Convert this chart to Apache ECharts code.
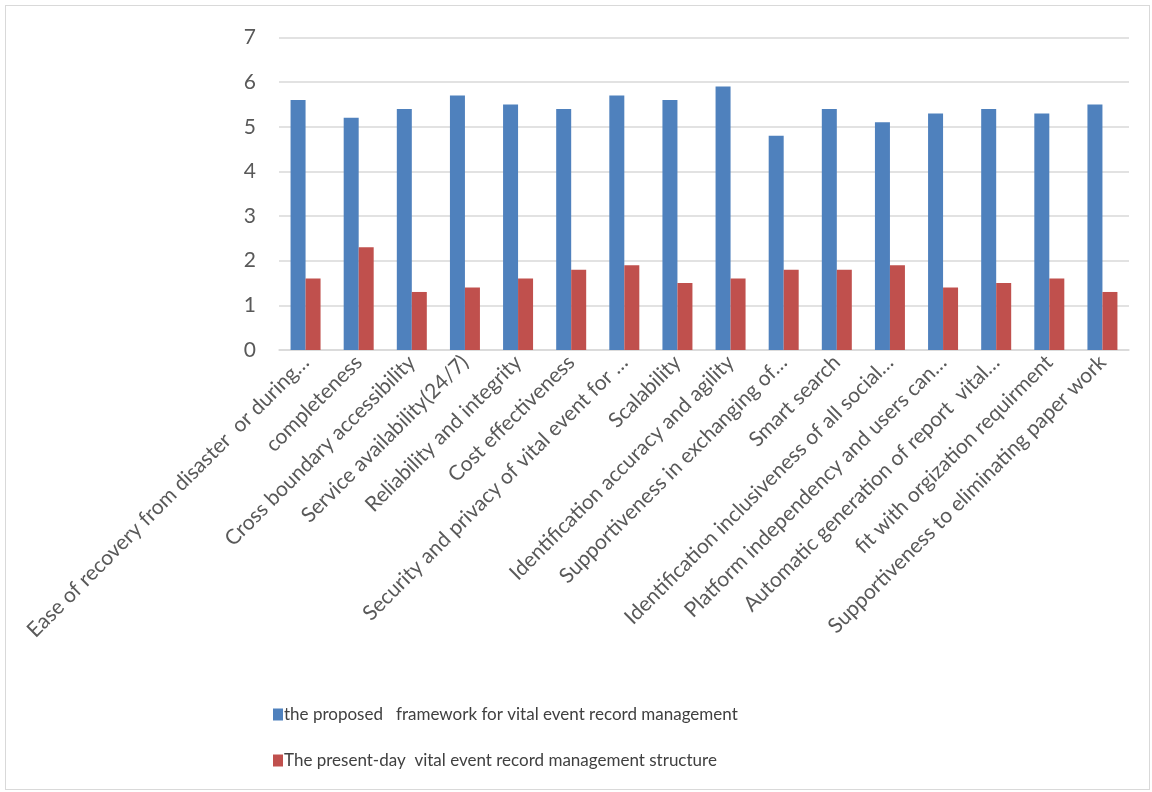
<!DOCTYPE html>
<html>
<head>
<meta charset="utf-8">
<script src="https://cdn.jsdelivr.net/npm/echarts@6/dist/echarts.min.js"></script>
<style>
html,body{margin:0;padding:0;background:#fff;}
#wrap{position:absolute;left:5px;top:5px;width:1145px;height:785px;border:1px solid #d9d9d9;box-sizing:border-box;}
#chart{position:absolute;left:0;top:0;width:1152px;height:792px;}
</style>
</head>
<body>
<div id="wrap"></div>
<div id="chart"></div>
<script>
const categories = [
  "Ease of recovery from disaster  or during\u2026",
  "completeness",
  "Cross boundary accessibility",
  "Service availability(24/7)",
  "Reliability and integrity",
  "Cost effectiveness",
  "Security and privacy of vital event for \u2026",
  "Scalability",
  "Identification accuracy and agility",
  "Supportiveness in exchanging of\u2026",
  "Smart search",
  "Identification inclusiveness of all social\u2026",
  "Platform independency and users can\u2026",
  "Automatic generation of report  vital\u2026",
  "fit with orgization requirment",
  "Supportiveness to eliminating paper work"
];
const seriesNames = [
  "the proposed   framework for vital event record management",
  "The present-day  vital event record management structure"
];
const proposed = [5.6, 5.2, 5.4, 5.7, 5.5, 5.4, 5.7, 5.6, 5.9, 4.8, 5.4, 5.1, 5.3, 5.4, 5.3, 5.5];
const present  = [1.6, 2.3, 1.3, 1.4, 1.6, 1.8, 1.9, 1.5, 1.6, 1.8, 1.8, 1.9, 1.4, 1.5, 1.6, 1.3];

const FONT = "Lato, 'Open Sans', sans-serif";
const chart = echarts.init(document.getElementById('chart'), null, {renderer:'canvas'});
chart.setOption({
  animation: false,
  textStyle: {fontFamily: FONT},
  grid: {left: 279, right: 23, top: 37.5, bottom: 442},
  legend: {
    orient: 'vertical',
    left: 268,
    top: 701,
    itemGap: 29,
    itemWidth: 10,
    itemHeight: 12,
    icon: 'rect',
    textStyle: {fontFamily: FONT, fontSize: 17, color: '#404040', padding:[0,0,0,-4]},
    data: seriesNames
  },
  xAxis: {
    type: 'category',
    data: categories,
    axisLine: {lineStyle: {color: '#d9d9d9', width: 1.5}},
    axisTick: {show: false},
    axisLabel: {
      interval: 0,
      rotate: 45,
      margin: 9,
      fontFamily: FONT,
      fontSize: 21,
      color: '#595959'
    }
  },
  yAxis: {
    type: 'value',
    min: 0,
    max: 7,
    interval: 1,
    axisLine: {show: false},
    axisTick: {show: false},
    splitLine: {lineStyle: {color: '#d9d9d9', width: 1.5}},
    axisLabel: {fontFamily: FONT, fontSize: 21, color: '#595959', margin: 23}
  },
  series: [
    {
      name: seriesNames[0],
      type: 'bar',
      data: proposed,
      barWidth: 15,
      barGap: '0%',
      itemStyle: {color: '#4f81bd'}
    },
    {
      name: seriesNames[1],
      type: 'bar',
      data: present,
      barWidth: 15,
      itemStyle: {color: '#c0504d'}
    }
  ]
});
</script>
</body>
</html>
